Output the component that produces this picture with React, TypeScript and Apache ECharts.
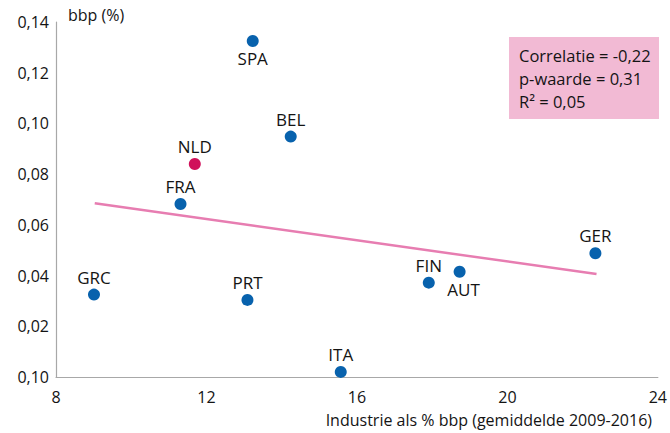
import React, { useEffect, useRef } from "react";
import * as echarts from "echarts";

const countries = ["SPA", "BEL", "NLD", "FRA", "GRC", "PRT", "ITA", "FIN", "AUT", "GER"];
const industryShare = [13.23, 14.24, 11.69, 11.31, 9.01, 13.09, 15.57, 17.91, 18.73, 22.34];
const bbpValues = [0.1325, 0.0948, 0.084, 0.0682, 0.0325, 0.0304, 0.002, 0.0372, 0.0415, 0.0488];
const highlighted = ["NLD"];
const trendX = [9.03, 22.37];
const trendY = [0.0685, 0.0406];
const yTickLabels = ["0,10", "0,02", "0,04", "0,06", "0,08", "0,10", "0,12", "0,14"];
const xTickLabels = ["8", "12", "16", "20", "24"];
const statsLines = ["Correlatie = -0,22", "p-waarde = 0,31", "R² = 0,05"];
const yAxisTitle = "bbp (%)";
const xAxisTitle = "Industrie als % bbp (gemiddelde 2009-2016)";

const FONT = "Open Sans";
const TEXT = "#141414";
const BLUE = "#0862ad";
const RED = "#d0105a";
const belowLabel: Record<string, boolean> = { SPA: true, AUT: true };

export default function App() {
  const ref = useRef<HTMLDivElement>(null);
  useEffect(() => {
    if (!ref.current) return;
    const chart = echarts.init(ref.current, undefined, { renderer: "svg" });
    const scatterData = countries.map((c, i) => ({
      name: c,
      value: [industryShare[i], bbpValues[i]],
      itemStyle: { color: highlighted.includes(c) ? RED : BLUE, opacity: 1 },
      label: {
        position: belowLabel[c] ? "bottom" : "top",
        offset: c === "AUT" ? [4, 0] : [0, 0],
      },
    }));
    chart.setOption({
      animation: false,
      textStyle: { fontFamily: FONT },
      grid: { left: 56, right: 9, top: 22, bottom: 56, containLabel: false },
      xAxis: {
        type: "value",
        min: 8,
        max: 24,
        interval: 4,
        splitLine: { show: false },
        axisTick: { show: false },
        axisLine: { show: true, lineStyle: { color: "#a8a8a8", width: 1.2 } },
        axisLabel: {
          margin: 12,
          fontSize: 16,
          color: TEXT,
          fontFamily: FONT,
          formatter: (v: number) => xTickLabels[Math.round((v - 8) / 4)] ?? "",
        },
      },
      yAxis: {
        type: "value",
        min: 0,
        max: 0.14,
        interval: 0.02,
        splitLine: { show: false },
        axisTick: { show: false },
        axisLine: { show: true, lineStyle: { color: "#a8a8a8", width: 1.2 } },
        axisLabel: {
          margin: 7,
          fontSize: 16,
          color: TEXT,
          fontFamily: FONT,
          formatter: (v: number) => yTickLabels[Math.round(v / 0.02)] ?? "",
        },
      },
      series: [
        {
          type: "line",
          data: trendX.map((x, i) => [x, trendY[i]]),
          showSymbol: false,
          symbol: "none",
          lineStyle: { color: "#e77db1", width: 2.5 },
          silent: true,
        },
        {
          type: "scatter",
          symbolSize: 12,
          data: scatterData,
          label: {
            show: true,
            formatter: "{b}",
            distance: 3,
            fontSize: 17,
            color: TEXT,
            fontFamily: FONT,
          },
        },
      ],
      graphic: [
        {
          type: "text",
          left: 68,
          top: 7,
          style: { text: yAxisTitle, fontSize: 16, fill: TEXT, fontFamily: FONT },
        },
        {
          type: "text",
          right: 18,
          top: 412,
          style: { text: xAxisTitle, fontSize: 16, fill: TEXT, fontFamily: FONT },
        },
        {
          type: "rect",
          shape: { x: 509, y: 37, width: 150, height: 82 },
          style: { fill: "#f2bad4" },
        },
        ...statsLines.map((t, i) => ({
          type: "text",
          x: 519,
          y: 55 + i * 23,
          style: {
            text: t,
            fontSize: 16.5,
            fill: TEXT,
            fontFamily: FONT,
            verticalAlign: "middle",
          },
        })),
      ],
    });
    return () => chart.dispose();
  }, []);
  return (
    <div
      ref={ref}
      style={{ position: "fixed", left: 0, top: 0, width: 670, height: 433, background: "#fff" }}
    />
  );
}
